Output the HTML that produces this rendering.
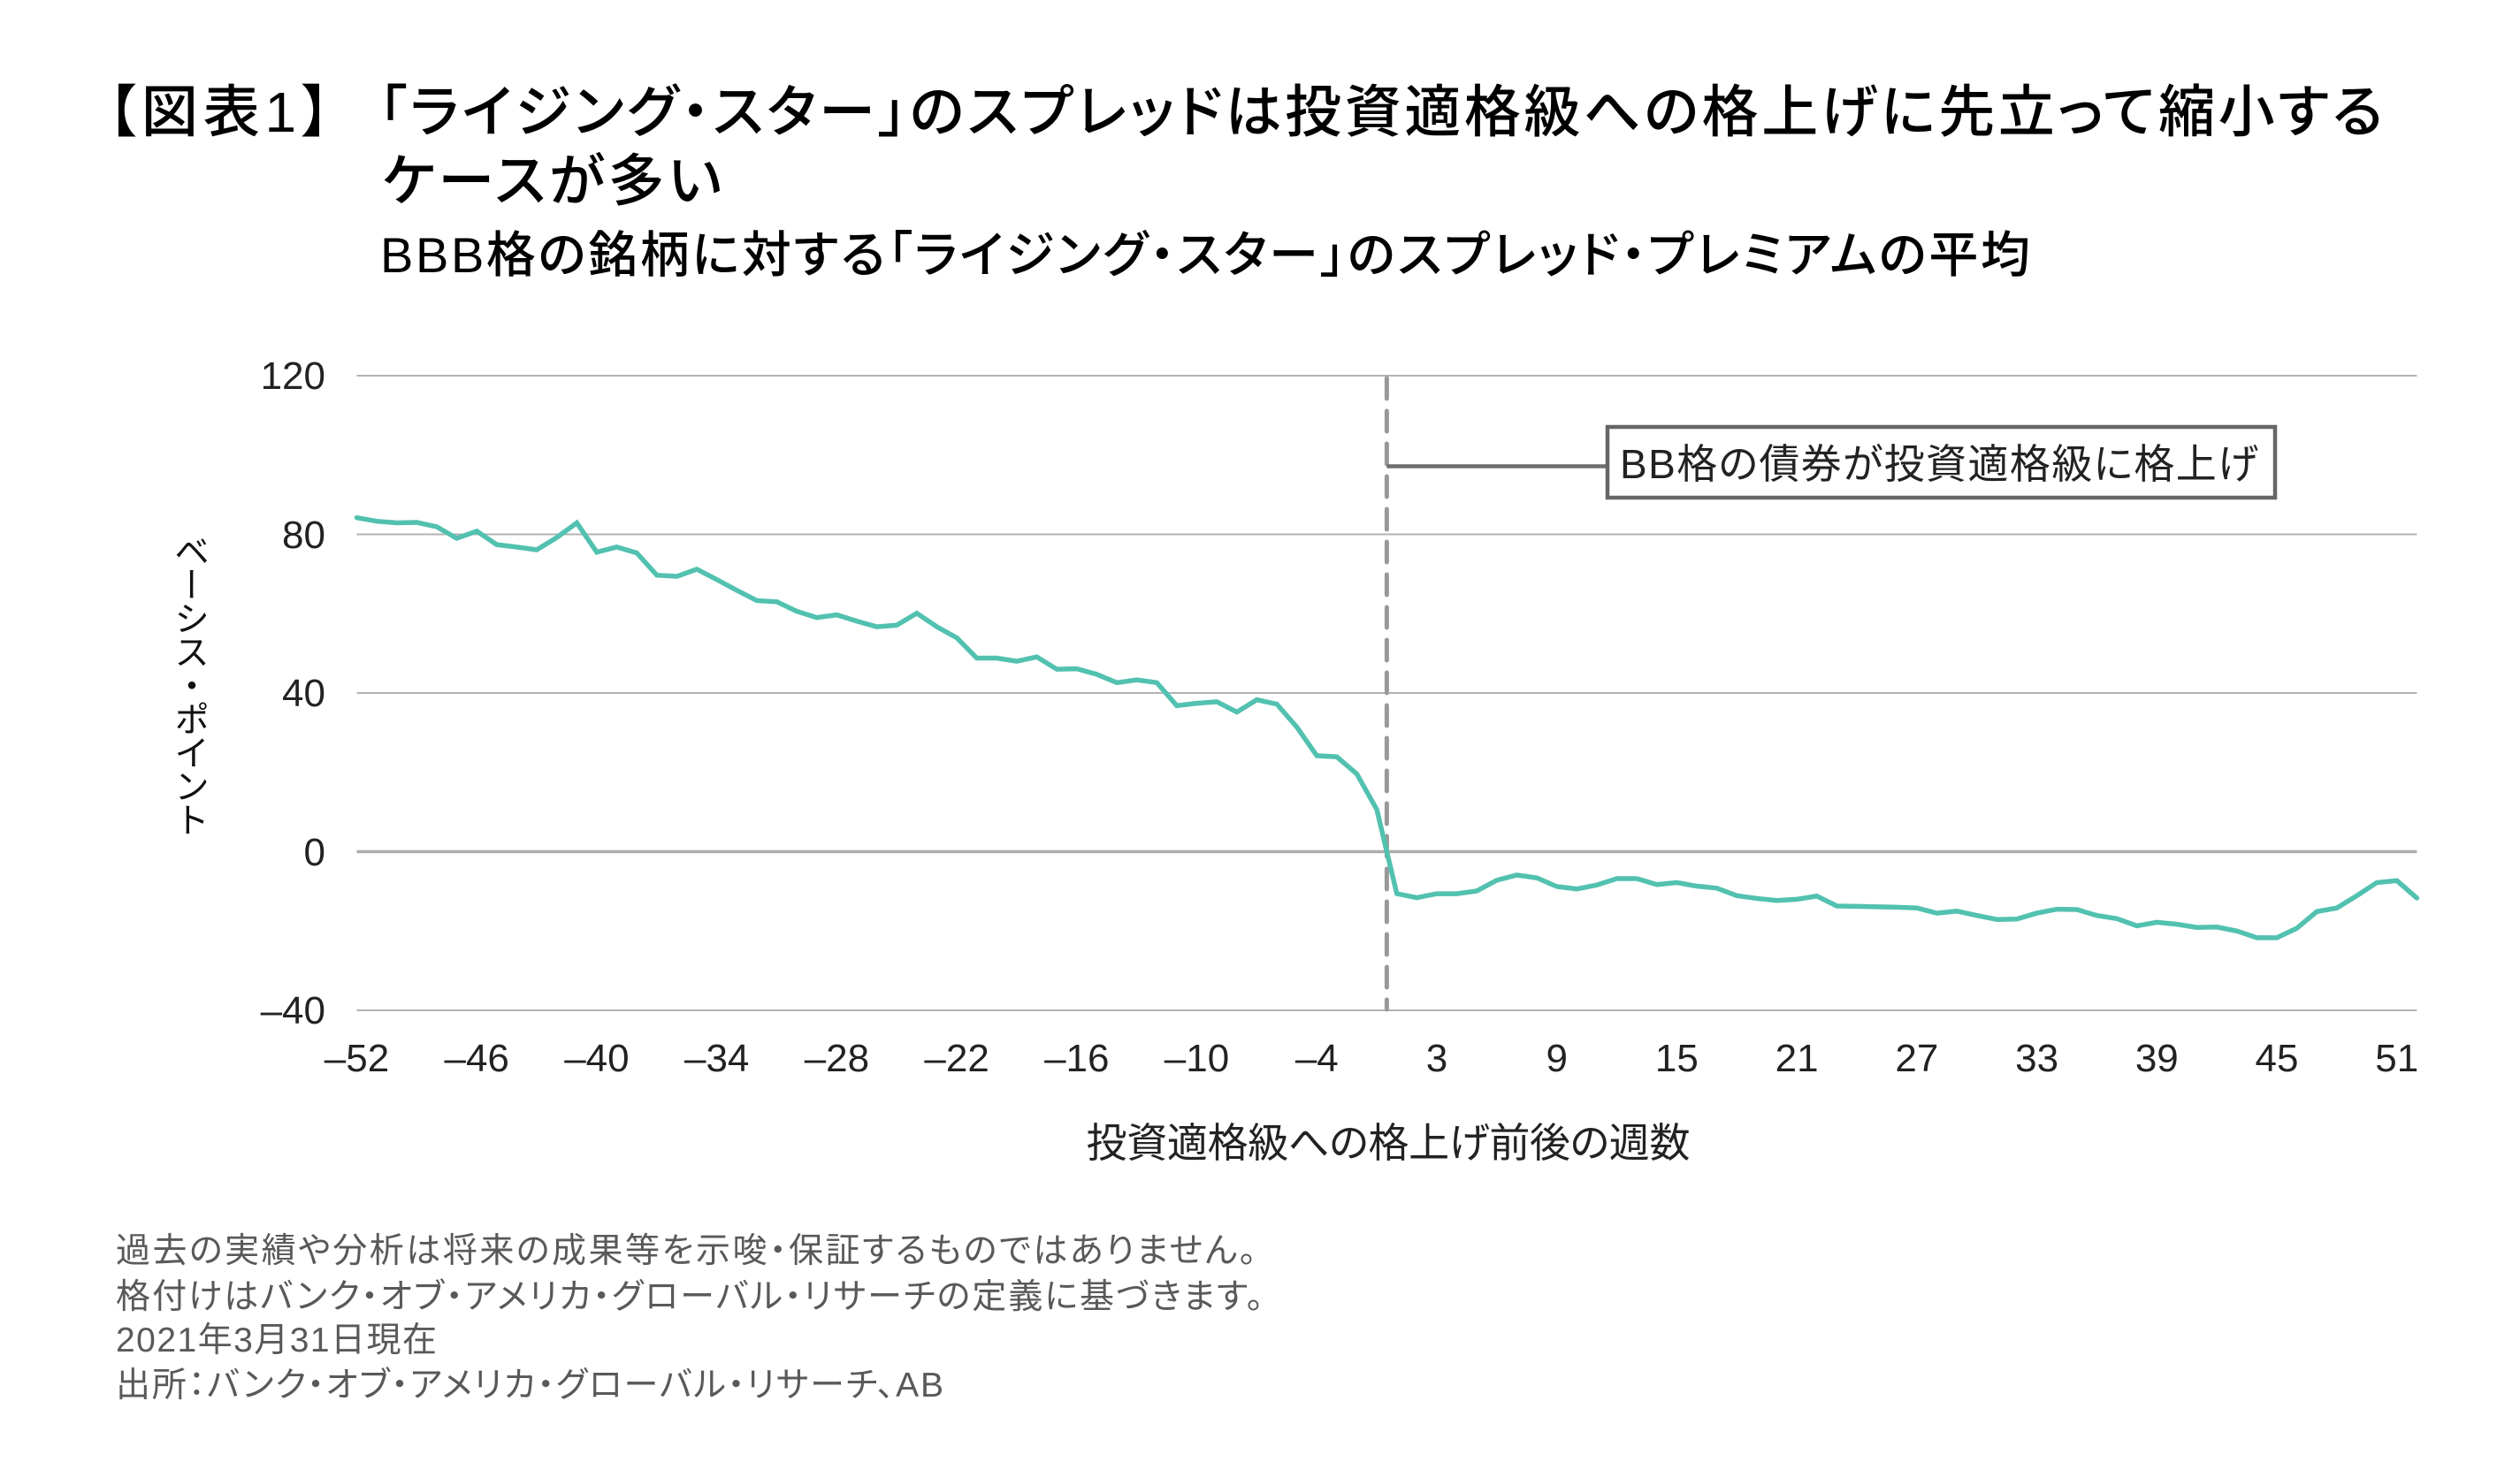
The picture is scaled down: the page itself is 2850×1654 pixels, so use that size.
<!DOCTYPE html>
<html lang="ja">
<head>
<meta charset="utf-8">
<style>
  html, body { margin:0; padding:0; background:#ffffff; }
  body { width:2850px; height:1654px; position:relative; overflow:hidden;
         font-family:"Liberation Sans","Noto Sans CJK JP",sans-serif; }
  svg { position:absolute; left:0; top:0; }
  .ylab { position:absolute; left:193px; top:603px; writing-mode:vertical-rl; text-orientation:upright;
          font-size:40px; line-height:40px; letter-spacing:-2px; color:#111;
          font-family:"Liberation Sans","Noto Sans CJK JP",sans-serif; white-space:nowrap; }
  .p { font-feature-settings:"palt"; }
  .t { font-weight:500; }
</style>
</head>
<body>
<svg width="2850" height="1654" viewBox="0 0 2850 1654" xmlns="http://www.w3.org/2000/svg">
  <g font-family="'Liberation Sans','Noto Sans CJK JP',sans-serif">
    <!-- Titles -->
    <text class="p t" x="122" y="149" font-size="64" fill="#000" textLength="251" lengthAdjust="spacing">【図表1】</text>
    <text class="p t" x="428" y="149" font-size="64" fill="#000" textLength="2267" lengthAdjust="spacing">「ライジング・スター」のスプレッドは投資適格級への格上げに先立って縮小する</text>
    <text class="p t" x="432" y="227" font-size="64" fill="#000" textLength="384" lengthAdjust="spacing">ケースが多い</text>
    <text class="p t" x="430" y="308" font-size="56" fill="#000" textLength="1866" lengthAdjust="spacing">BBB格の銘柄に対する「ライジング・スター」のスプレッド・プレミアムの平均</text>

    <!-- Gridlines -->
    <g stroke="#b3b3b3" stroke-width="2">
      <line x1="403.5" y1="425" x2="2733.4" y2="425"/>
      <line x1="403.5" y1="604.5" x2="2733.4" y2="604.5"/>
      <line x1="403.5" y1="784" x2="2733.4" y2="784"/>
      <line x1="403.5" y1="1143" x2="2733.4" y2="1143"/>
    </g>
    <line x1="403.5" y1="963.5" x2="2733.4" y2="963.5" stroke="#adadad" stroke-width="3.5"/>

    <!-- Y tick labels -->
    <g font-size="44" fill="#222" text-anchor="end">
      <text x="368" y="440">120</text>
      <text x="368" y="620">80</text>
      <text x="368" y="799">40</text>
      <text x="368" y="979">0</text>
      <text x="368" y="1158">–40</text>
    </g>

    <!-- X tick labels -->
    <g font-size="44" fill="#222" text-anchor="middle">
      <text x="403.5" y="1212">–52</text>
      <text x="539.2" y="1212">–46</text>
      <text x="674.9" y="1212">–40</text>
      <text x="810.7" y="1212">–34</text>
      <text x="946.4" y="1212">–28</text>
      <text x="1082.1" y="1212">–22</text>
      <text x="1217.8" y="1212">–16</text>
      <text x="1353.5" y="1212">–10</text>
      <text x="1489.3" y="1212">–4</text>
      <text x="1625.0" y="1212">3</text>
      <text x="1760.7" y="1212">9</text>
      <text x="1896.4" y="1212">15</text>
      <text x="2032.1" y="1212">21</text>
      <text x="2167.9" y="1212">27</text>
      <text x="2303.6" y="1212">33</text>
      <text x="2439.3" y="1212">39</text>
      <text x="2575.0" y="1212">45</text>
      <text x="2710.7" y="1212">51</text>
    </g>

    <!-- X axis title -->
    <text class="p" x="1570" y="1309" font-size="46" fill="#222" text-anchor="middle" textLength="683" lengthAdjust="spacing">投資適格級への格上げ前後の週数</text>

    <!-- Dashed vertical line -->
    <line x1="1568.4" y1="428" x2="1568.4" y2="1142" stroke="#999999" stroke-width="5" stroke-dasharray="23 14" stroke-linecap="round"/>

    <!-- Annotation connector & box -->
    <line x1="1568.4" y1="527.5" x2="1818" y2="527.5" stroke="#6e6e6e" stroke-width="4.5"/>
    <rect x="1818" y="483" width="755" height="80" fill="#ffffff" stroke="#666666" stroke-width="4.5"/>
    <text class="p" x="1832" y="541" font-size="46" fill="#222" textLength="722" lengthAdjust="spacing">BB格の債券が投資適格級に格上げ</text>

    <!-- Data line -->
    <g transform="translate(403.5,963.5) scale(22.62,-4.4875)">
      <polyline fill="none" stroke="#52c1b0" stroke-width="5.5" vector-effect="non-scaling-stroke" stroke-linecap="round" stroke-linejoin="miter"
        points="0,84.2 1,83.3 2,82.9 3,83.0 4,81.9 5,79.0 6,80.8 7,77.4 8,76.8 9,76.1 10,79.2 11,82.9 12,75.5 13,76.8 14,75.3 15,69.7 16,69.4 17,71.2 18,68.6 19,65.9 20,63.3 21,63.0 22,60.6 23,59.0 24,59.7 25,58.1 26,56.7 27,57.1 28,60.1 29,56.7 30,53.9 31,48.8 32,48.8 33,48.0 34,49.1 35,46.0 36,46.1 37,44.7 38,42.6 39,43.3 40,42.6 41,36.8 42,37.4 43,37.8 44,35.2 45,38.3 46,37.2 47,31.4 48,24.2 49,23.9 50,19.6 51,10.6 52,-10.6 53,-11.6 54,-10.6 55,-10.6 56,-9.9 57,-7.2 58,-5.9 59,-6.6 60,-8.8 61,-9.4 62,-8.4 63,-6.8 64,-6.8 65,-8.3 66,-7.8 67,-8.7 68,-9.2 69,-11.1 70,-11.8 71,-12.3 72,-12.0 73,-11.2 74,-13.7 75,-13.8 76,-13.9 77,-14.0 78,-14.2 79,-15.5 80,-15.0 81,-16.1 82,-17.1 83,-17.0 84,-15.5 85,-14.5 86,-14.6 87,-16.1 88,-16.9 89,-18.7 90,-17.8 91,-18.3 92,-19.1 93,-19.0 94,-20.0 95,-21.7 96,-21.7 97,-19.3 98,-15.1 99,-14.2 100,-11.1 101,-7.8 102,-7.3 103,-11.7"/>
    </g>

    <!-- Footnotes -->
    <g font-size="39" fill="#595959">
      <text class="p" x="131" y="1428" textLength="1290" lengthAdjust="spacing">過去の実績や分析は将来の成果等を示唆・保証するものではありません。</text>
      <text class="p" x="131" y="1480" textLength="1298" lengthAdjust="spacing">格付けはバンク・オブ・アメリカ・グローバル・リサーチの定義に基づきます。</text>
      <text class="p" x="131" y="1529" textLength="363" lengthAdjust="spacing">2021年3月31日現在</text>
      <text class="p" x="131" y="1580" textLength="936" lengthAdjust="spacing">出所：バンク・オブ・アメリカ・グローバル・リサーチ、AB</text>
    </g>
  </g>
</svg>
<div class="ylab">ベーシス・ポイント</div>
</body>
</html>
